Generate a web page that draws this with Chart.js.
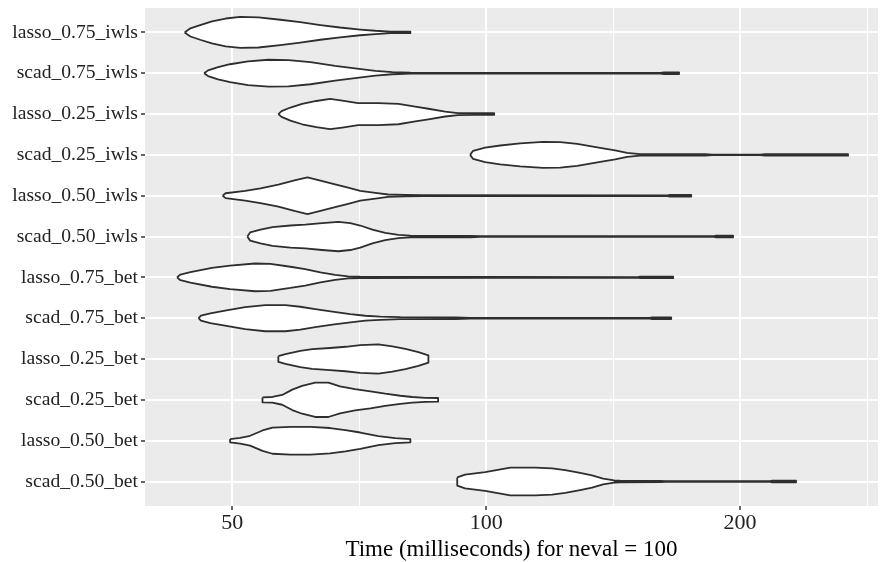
<!DOCTYPE html>
<html>
<head>
<meta charset="utf-8">
<script src="https://cdn.jsdelivr.net/npm/chart.js@4.4.1/dist/chart.umd.min.js"></script>
<style>
  html, body { margin: 0; padding: 0; background: #fff; }
  #wrap { width: 882px; height: 562px; }
</style>
</head>
<body>
<div id="wrap"><canvas id="chart" width="882" height="562"></canvas></div>
<script>
// rows, top to bottom
const categories = [
    'lasso_0.75_iwls', 'scad_0.75_iwls', 'lasso_0.25_iwls', 'scad_0.25_iwls',
    'lasso_0.50_iwls', 'scad_0.50_iwls', 'lasso_0.75_bet', 'scad_0.75_bet',
    'lasso_0.25_bet', 'scad_0.25_bet', 'lasso_0.50_bet', 'scad_0.50_bet'
];
const majorTicks = [50, 100, 200];
const minorTicks = [70.7, 141.4, 282.8];

// violin profiles: [time in ms, half width in row units]
const lasso075iwls = [[43.9,0],[44.6,0.1],[45.8,0.18],[47.3,0.27],[49.1,0.34],[51.1,0.38],[53.7,0.37],[57.0,0.31],[60.2,0.25],[63.6,0.18],[67.1,0.12],[70.9,0.07],[73.9,0.04],[77.0,0.02],[81.3,0.02]];
const scad075iwls = [[46.3,0],[46.8,0.07],[48.1,0.15],[49.7,0.22],[52.2,0.29],[55.2,0.33],[58.3,0.32],[61.9,0.27],[66.2,0.18],[69.9,0.12],[73.9,0.06],[77.4,0.025],[81.3,0.012],[160.8,0.01],[162.5,0.02],[169.3,0.02]];
const lasso025iwls = [[56.7,0],[57.2,0.07],[58.6,0.16],[60.5,0.25],[62.9,0.32],[65.3,0.37],[67.5,0.33],[70.5,0.27],[74.5,0.27],[78.7,0.25],[82.4,0.18],[85.4,0.13],[89.4,0.06],[92.6,0.025],[97.0,0.02],[102.2,0.02]];
const scad025iwls = [[95.7,0],[96.5,0.1],[99.7,0.18],[103.9,0.23],[109.7,0.28],[116.8,0.32],[122.4,0.31],[128.2,0.27],[136.5,0.17],[142.2,0.11],[146.9,0.05],[152.2,0.02],[160.8,0.015],[181.8,0.015],[185.3,0.008],[211.2,0.008],[214.1,0.02],[268.5,0.02]];
const lasso050iwls = [[48.7,0],[49.1,0.06],[51.8,0.12],[54.0,0.18],[56.7,0.27],[59.4,0.38],[61.4,0.45],[63.6,0.37],[66.2,0.28],[68.6,0.2],[70.9,0.12],[73.9,0.07],[76.5,0.03],[80.2,0.017],[84.0,0.012],[163.9,0.01],[165.2,0.02],[175.0,0.02]];
const scad050iwls = [[52.1,0],[52.5,0.1],[54.0,0.17],[55.8,0.23],[58.6,0.27],[61.0,0.29],[63.9,0.33],[66.8,0.36],[69.0,0.33],[70.9,0.27],[73.3,0.17],[75.9,0.09],[78.7,0.04],[81.3,0.02],[95.7,0.017],[98.4,0.008],[186.3,0.008],[187.3,0.02],[196.2,0.02]];
const lasso075bet = [[43.0,0],[43.4,0.07],[44.6,0.13],[47.3,0.23],[49.7,0.29],[53.2,0.34],[55.5,0.33],[58.6,0.26],[61.0,0.2],[63.6,0.12],[66.2,0.06],[68.6,0.025],[70.9,0.015],[151.4,0.008],[152.2,0.02],[166.6,0.02]];
const scad075bet = [[45.6,0],[45.9,0.06],[47.1,0.12],[49.2,0.19],[51.8,0.27],[54.7,0.32],[57.8,0.32],[60.2,0.28],[62.7,0.22],[65.7,0.16],[69.0,0.1],[71.9,0.06],[74.9,0.04],[79.1,0.025],[91.9,0.02],[95.7,0.01],[156.4,0.01],[157.3,0.02],[165.7,0.02]];
const lasso025bet = [[56.7,0.07],[57.8,0.12],[60.2,0.2],[62.2,0.24],[65.3,0.27],[68.1,0.3],[70.9,0.34],[74.5,0.36],[77.4,0.31],[80.2,0.25],[83.1,0.17],[85.4,0.09]];
const scad025bet = [[54.3,0.06],[55.8,0.07],[57.3,0.12],[58.9,0.25],[60.5,0.34],[62.7,0.42],[65.0,0.42],[67.1,0.33],[69.9,0.26],[72.9,0.21],[75.9,0.15],[79.1,0.1],[81.7,0.07],[84.7,0.05],[87.7,0.045]];
const lasso050bet = [[49.7,0.04],[51.1,0.07],[52.5,0.12],[54.3,0.25],[55.8,0.32],[58.6,0.34],[61.9,0.34],[65.3,0.31],[68.1,0.26],[70.9,0.2],[74.5,0.11],[78.0,0.06],[81.3,0.04]];
const scad050bet = [[92.4,0.1],[94.4,0.17],[99.7,0.23],[106.8,0.34],[114.3,0.34],[119.7,0.32],[124.1,0.28],[129.2,0.21],[133.5,0.15],[137.6,0.07],[141.8,0.025],[144.1,0.02],[160.8,0.017],[163.0,0.01],[217.1,0.01],[218.3,0.02],[233.0,0.02]];

const violins = [
    lasso075iwls, scad075iwls, lasso025iwls, scad025iwls,
    lasso050iwls, scad050iwls, lasso075bet, scad075bet,
    lasso025bet, scad025bet, lasso050bet, scad050bet
];

const SERIF = "'Liberation Serif', 'Times New Roman', serif";

// closed outline: upper edge left->right, lower edge back
function outline(profile, row) {
    const upper = profile.map(([t, w]) => ({ x: t, y: row - w }));
    const lower = profile.slice().reverse().map(([t, w]) => ({ x: t, y: row + w }));
    return upper.concat(lower, [upper[0]]);
}

const panelBg = {
    id: 'panelBg',
    beforeDraw(chart) {
        const { ctx, chartArea: a } = chart;
        ctx.save();
        ctx.fillStyle = '#EBEBEB';
        ctx.fillRect(a.left, a.top, a.right - a.left, a.bottom - a.top);
        ctx.restore();
    }
};

const isMajor = v => majorTicks.includes(v);

new Chart(document.getElementById('chart'), {
    type: 'scatter',
    data: {
        datasets: violins.map((p, i) => ({
            label: categories[i],
            data: outline(p, i),
            showLine: true,
            fill: 'shape',
            backgroundColor: '#FFFFFF',
            borderColor: '#2E2E2E',
            borderWidth: 1.8,
            borderJoinStyle: 'round',
            pointRadius: 0,
            tension: 0,
        }))
    },
    options: {
        responsive: false,
        devicePixelRatio: 1,
        animation: false,
        layout: { autoPadding: false, padding: { top: 7, right: 4, left: 0, bottom: 0 } },
        plugins: { legend: { display: false }, tooltip: { enabled: false } },
        scales: {
            x: {
                type: 'logarithmic',
                min: 39.4,
                max: 291.4,
                afterBuildTicks: s => {
                    s.ticks = majorTicks.concat(minorTicks).sort((a, b) => a - b).map(v => ({ value: v }));
                },
                afterFit: s => { s.height = 56; },
                ticks: {
                    autoSkip: false,
                    maxRotation: 0,
                    padding: 2,
                    color: '#222',
                    font: { family: SERIF, size: 22, lineHeight: 1 },
                    callback: v => isMajor(v) ? String(v) : ''
                },
                grid: {
                    color: '#FFFFFF',
                    lineWidth: c => (c.tick && isMajor(c.tick.value)) ? 2 : 1,
                    tickColor: c => (c.tick && isMajor(c.tick.value)) ? '#333333' : 'rgba(0,0,0,0)',
                    tickLength: 4,
                    tickWidth: 1.5,
                },
                border: { display: false },
                title: {
                    display: true,
                    text: 'Time (milliseconds) for neval = 100',
                    color: '#000',
                    font: { family: SERIF, size: 23, lineHeight: 1 },
                    padding: { top: 0, bottom: 1 }
                }
            },
            y: {
                type: 'linear',
                reverse: true,
                min: -0.6,
                max: 11.6,
                afterBuildTicks: s => {
                    s.ticks = categories.map((_, i) => ({ value: i }));
                },
                afterFit: s => { s.width = 145; },
                ticks: {
                    autoSkip: false,
                    padding: 3,
                    color: '#222',
                    font: { family: SERIF, size: 19.6, lineHeight: 0.5 },
                    callback: v => categories[v]
                },
                grid: {
                    color: '#FFFFFF',
                    lineWidth: 2,
                    tickColor: '#333333',
                    tickLength: 4,
                    tickWidth: 1.5,
                },
                border: { display: false }
            }
        }
    },
    plugins: [panelBg]
});
</script>
</body>
</html>
